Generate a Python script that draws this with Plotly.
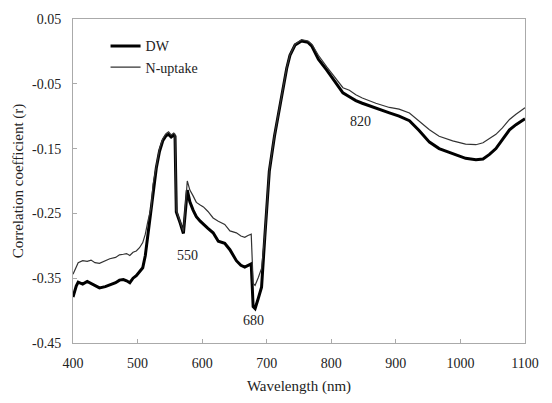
import plotly.graph_objects as go

wavelength = [400, 405, 408, 415, 422, 428, 434, 441, 450, 457, 466, 472, 478, 483, 488, 493, 498, 503, 508, 512,
              516, 521, 524, 529, 534, 539, 544, 548, 552, 556, 558, 560, 566, 571, 577, 581, 586, 591, 597, 602,
              609, 617, 625, 635, 643, 653, 660, 666, 671, 676, 679, 682, 687, 692, 697, 704, 712, 720, 725, 731,
              736, 744, 754, 764, 770, 780, 793, 806, 818, 828, 838, 848, 869, 890, 905, 921, 936, 952, 967, 988,
              1008, 1024, 1035, 1045, 1055, 1065, 1076, 1086, 1095, 1100]

dw = [-0.379, -0.362, -0.356, -0.359, -0.355, -0.358, -0.362, -0.365, -0.363, -0.360, -0.357, -0.353, -0.352, -0.354,
      -0.357, -0.350, -0.346, -0.340, -0.334, -0.315, -0.282, -0.246, -0.212, -0.180, -0.154, -0.138, -0.130, -0.128,
      -0.132, -0.129, -0.131, -0.248, -0.265, -0.281, -0.214, -0.232, -0.245, -0.255, -0.262, -0.266, -0.273, -0.280,
      -0.293, -0.296, -0.306, -0.323, -0.330, -0.333, -0.330, -0.328, -0.394, -0.397, -0.381, -0.364, -0.287, -0.185,
      -0.131, -0.087, -0.057, -0.026, -0.006, 0.010, 0.016, 0.014, 0.008, -0.012, -0.029, -0.048, -0.064, -0.070,
      -0.076, -0.080, -0.088, -0.095, -0.100, -0.107, -0.122, -0.140, -0.150, -0.158, -0.165, -0.167, -0.166, -0.159,
      -0.150, -0.136, -0.121, -0.113, -0.107, -0.104]

n_uptake = [-0.344, -0.332, -0.326, -0.323, -0.324, -0.322, -0.326, -0.327, -0.323, -0.320, -0.318, -0.314, -0.313,
            -0.312, -0.315, -0.310, -0.308, -0.303, -0.295, -0.282, -0.262, -0.241, -0.205, -0.175, -0.150, -0.135,
            -0.127, -0.124, -0.129, -0.126, -0.128, -0.245, -0.262, -0.278, -0.200, -0.214, -0.223, -0.233, -0.237,
            -0.240, -0.247, -0.257, -0.262, -0.267, -0.277, -0.280, -0.285, -0.287, -0.284, -0.282, -0.358, -0.361,
            -0.349, -0.335, -0.285, -0.183, -0.130, -0.086, -0.056, -0.025, -0.005, 0.011, 0.018, 0.016, 0.011,
            -0.006, -0.024, -0.040, -0.056, -0.060, -0.067, -0.072, -0.080, -0.0865, -0.089, -0.095, -0.108, -0.121,
            -0.131, -0.138, -0.143, -0.144, -0.141, -0.135, -0.128, -0.118, -0.105, -0.097, -0.090, -0.087]

labels = ["550", "680", "820"]
label_x = [577, 679, 846]
label_y = [-0.315, -0.415, -0.108]

y_ticks = [0.05, -0.05, -0.15, -0.25, -0.35, -0.45]
x_ticks = [400, 500, 600, 700, 800, 900, 1000, 1100]

font = "Liberation Serif"

fig = go.Figure()
fig.add_trace(go.Scatter(x=wavelength, y=dw, mode="lines", name="DW",
                         line=dict(color="black", width=3)))
fig.add_trace(go.Scatter(x=wavelength, y=n_uptake, mode="lines", name="N-uptake",
                         line=dict(color="#333333", width=1.2)))

for t, x, y in zip(labels, label_x, label_y):
    fig.add_annotation(x=x, y=y, text=t, showarrow=False,
                       font=dict(family=font, size=14, color="#222"))

axis_common = dict(showline=True, linecolor="#aaaaaa", linewidth=1, mirror=True,
                   ticks="inside", ticklen=4, tickcolor="#aaaaaa", showgrid=False, zeroline=False,
                   tickfont=dict(family=font, size=14, color="#222"))

fig.update_xaxes(range=[400, 1100], tickvals=x_ticks, ticktext=[str(v) for v in x_ticks],
                 title=dict(text="Wavelength (nm)", font=dict(family=font, size=15, color="#222"), standoff=10),
                 ticklabelstandoff=7, **axis_common)
fig.update_yaxes(range=[-0.45, 0.05], tickvals=y_ticks, ticktext=["0.05", "-0.05", "-0.15", "-0.25", "-0.35", "-0.45"],
                 title=dict(text="Correlation coefficient (r)", font=dict(family=font, size=15, color="#222"), standoff=4),
                 ticklabelstandoff=8, **axis_common)

fig.update_layout(
    width=552, height=403,
    margin=dict(l=73, r=27, t=17, b=60),
    paper_bgcolor="white", plot_bgcolor="white",
    font=dict(family=font),
    showlegend=True,
    legend=dict(x=0.072, y=0.965, xanchor="left", yanchor="top", bgcolor="rgba(0,0,0,0)",
                font=dict(family=font, size=14, color="#222"), tracegroupgap=0),
)

fig.write_html("out.html")
